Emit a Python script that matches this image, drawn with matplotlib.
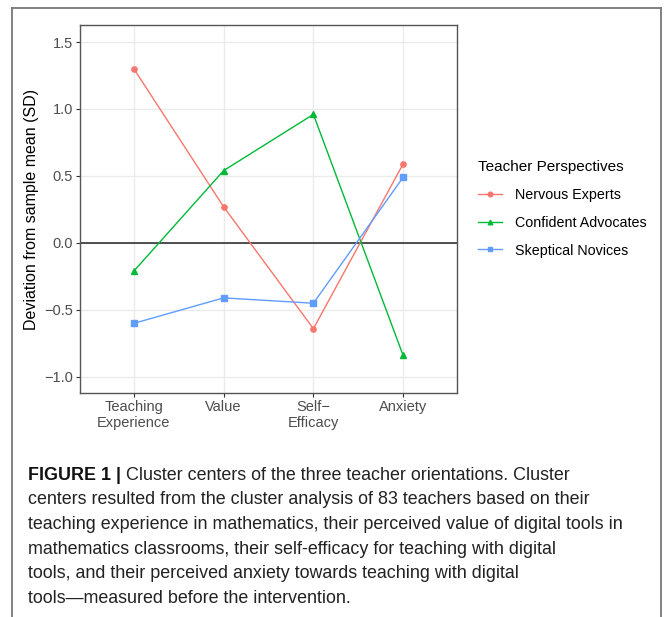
import matplotlib
matplotlib.use("Agg")
import matplotlib.pyplot as plt
from matplotlib.lines import Line2D
import numpy as np

# ---------------------------------------------------------------------------
# Data
# ---------------------------------------------------------------------------
CATEGORIES = ["Teaching\nExperience", "Value", "Self\u2212\nEfficacy", "Anxiety"]
NERVOUS_EXPERTS = [1.30, 0.27, -0.64, 0.59]
CONFIDENT_ADVOCATES = [-0.21, 0.54, 0.96, -0.84]
SKEPTICAL_NOVICES = [-0.60, -0.41, -0.45, 0.49]
SERIES_NAMES = ["Nervous Experts", "Confident Advocates", "Skeptical Novices"]
Y_TICKS = [-1.0, -0.5, 0.0, 0.5, 1.0, 1.5]

CAPTION_BOLD = "FIGURE 1 |"
CAPTION_LINES = [
    " Cluster centers of the three teacher orientations. Cluster",
    "centers resulted from the cluster analysis of 83 teachers based on their",
    "teaching experience in mathematics, their perceived value of digital tools in",
    "mathematics classrooms, their self-efficacy for teaching with digital",
    "tools, and their perceived anxiety towards teaching with digital",
    "tools\u2014measured before the intervention.",
]

W, H = 664, 617


def px(x, y):
    return x / W, 1 - y / H


def main() -> None:
    plt.rcParams.update({"font.family": ["Liberation Sans", "DejaVu Sans"]})
    fig = plt.figure(figsize=(W / 100, H / 100), dpi=100)
    fig.patch.set_facecolor("white")

    l, b = px(80, 393)
    ax = fig.add_axes([l, b, 377 / W, 368 / H])

    x = np.arange(len(CATEGORIES))
    styles = [
        (NERVOUS_EXPERTS, "#F8766D", "o"),
        (CONFIDENT_ADVOCATES, "#00BA38", "^"),
        (SKEPTICAL_NOVICES, "#619CFF", "s"),
    ]
    ax.axhline(0, color="#333333", lw=1.2, zorder=2)
    handles = []
    for (vals, color, marker), name in zip(styles, SERIES_NAMES):
        ax.plot(x, vals, color=color, lw=1.0, marker=marker,
                markersize=3.8, zorder=3)
        handles.append(Line2D([], [], color=color, lw=1.0, marker=marker,
                              markersize=3.3, label=name))

    ax.set_xlim(-0.6, 3.6)
    ax.set_ylim(-1.12, 1.627)
    ax.set_yticks(Y_TICKS)
    ax.set_yticklabels([f"{t:.1f}".replace("-", "\u2212") for t in Y_TICKS])
    ax.set_xticks(x)
    ax.set_xticklabels(CATEGORIES, linespacing=1.2)
    ax.grid(True, color="#EBEBEB", lw=1.0, zorder=0)
    ax.set_axisbelow(True)
    for s in ax.spines.values():
        s.set_color("#555555")
        s.set_linewidth(1.0)
    ax.tick_params(colors="#333333", labelcolor="#4D4D4D", labelsize=10.5,
                   length=3, width=0.8, pad=2)
    ax.set_ylabel("Deviation from sample mean (SD)", fontsize=11.5,
                  color="black", labelpad=4)

    leg = fig.legend(handles=handles, loc="upper left",
                     bbox_to_anchor=px(465, 147), frameon=False,
                     title="Teacher Perspectives", fontsize=10.3,
                     title_fontsize=11, handlelength=1.7, handletextpad=0.9,
                     labelspacing=0.97)
    leg._legend_box.align = "left"

    # frame around the figure panel
    fc = "#777777"
    fig.add_artist(Line2D([12 / W, 12 / W], [0, 1 - 8 / H], color=fc, lw=1.3))
    fig.add_artist(Line2D([12 / W, 661 / W], [1 - 8 / H, 1 - 8 / H], color=fc, lw=1.3))
    fig.add_artist(Line2D([661 / W, 661 / W], [0, 1 - 8 / H], color=fc, lw=1.3))

    # caption
    fs = 12.9
    x0, y0 = 28, 475
    step = 24.7
    bold = fig.text(*px(x0, y0), CAPTION_BOLD, fontsize=fs, fontweight="bold",
                    va="center", ha="left", color="#111111")
    fig.canvas.draw()
    bb = bold.get_window_extent(fig.canvas.get_renderer())
    fig.text(bb.x1 / W, 1 - y0 / H, CAPTION_LINES[0], fontsize=fs,
             va="center", ha="left", color="#222222")
    for i, line in enumerate(CAPTION_LINES[1:], start=1):
        fig.text(*px(x0, y0 + i * step), line, fontsize=fs, va="center",
                 ha="left", color="#222222")

    fig.savefig("out.png", dpi=100)


if __name__ == "__main__":
    main()
